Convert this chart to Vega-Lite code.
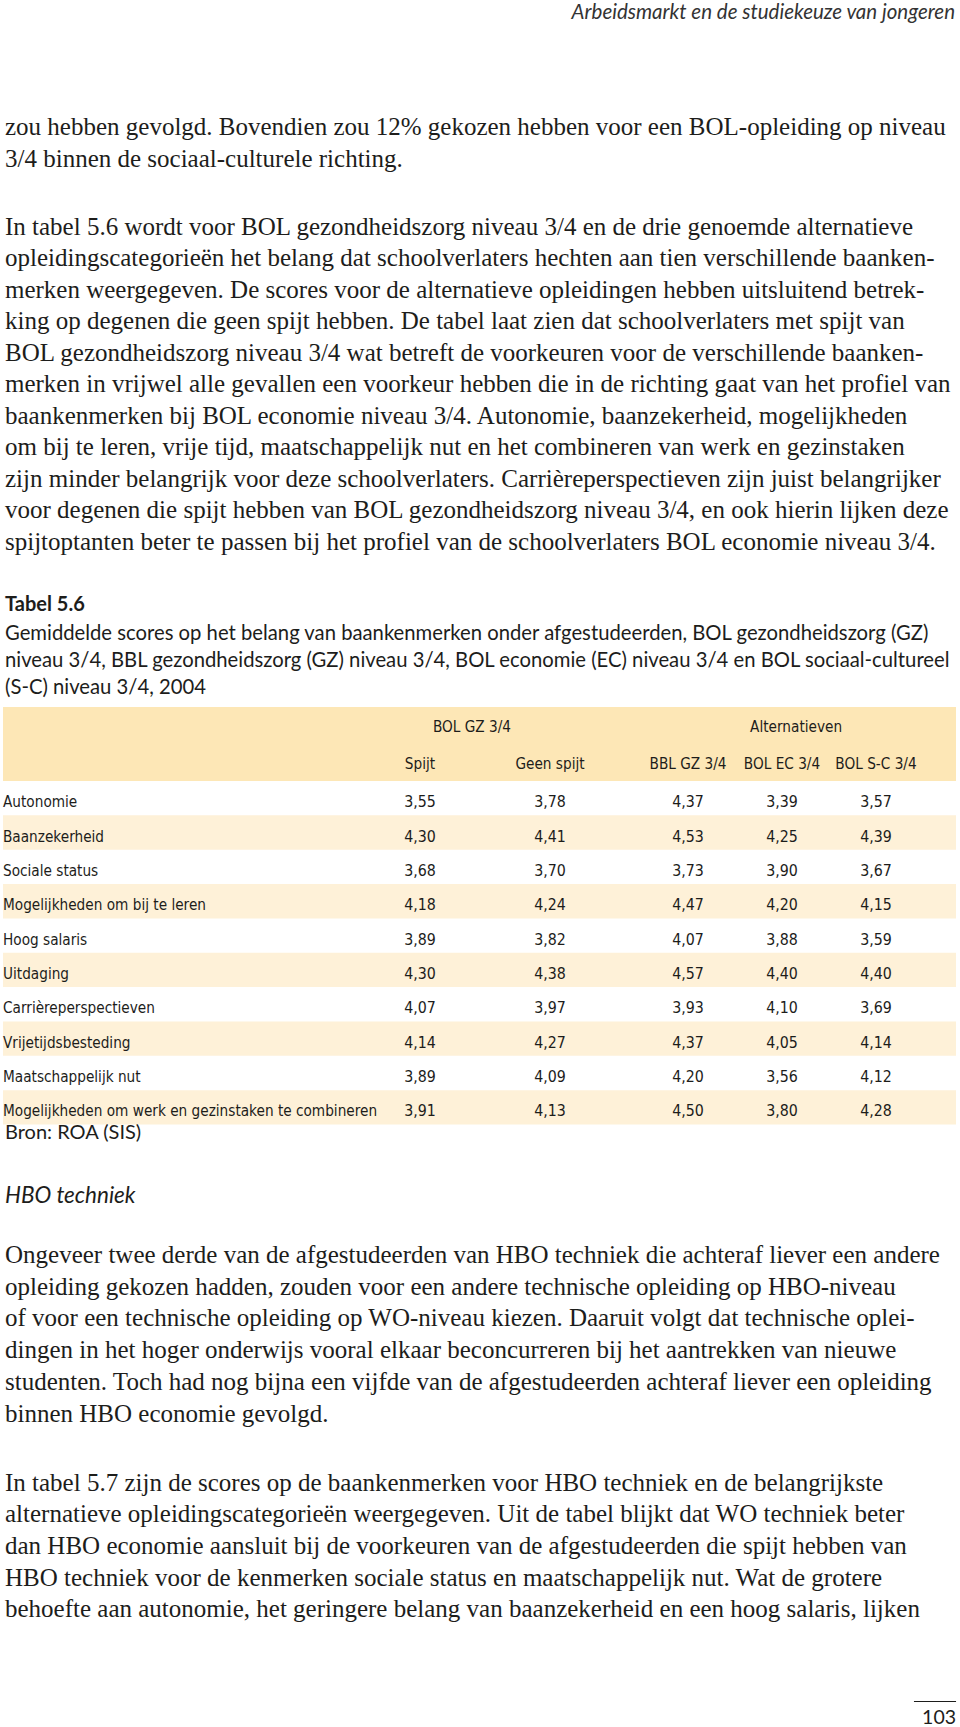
{
  "$schema": "https://vega.github.io/schema/vega-lite/v6.json",
  "width": 960,
  "height": 1727,
  "autosize": {"type": "none"},
  "padding": 0,
  "background": "white",
  "config": {
    "view": {"stroke": null},
    "axis": {"disable": true},
    "legend": {"disable": true},
    "locale": {"number": {"decimal": ",", "thousands": ".", "grouping": [3], "currency": ["€", ""]}},
    "text": {"color": "#1d1d1b"}
  },
  "datasets": {
    "regels": [
      {"blok": "p1", "regel": 0, "tekst": "zou hebben gevolgd. Bovendien zou 12% gekozen hebben voor een BOL-opleiding op niveau"},
      {"blok": "p1", "regel": 1, "tekst": "3/4 binnen de sociaal-culturele richting."},
      {"blok": "p2", "regel": 0, "tekst": "In tabel 5.6 wordt voor BOL gezondheidszorg niveau 3/4 en de drie genoemde alternatieve"},
      {"blok": "p2", "regel": 1, "tekst": "opleidingscategorieën het belang dat schoolverlaters hechten aan tien verschillende baanken-"},
      {"blok": "p2", "regel": 2, "tekst": "merken weergegeven. De scores voor de alternatieve opleidingen hebben uitsluitend betrek-"},
      {"blok": "p2", "regel": 3, "tekst": "king op degenen die geen spijt hebben. De tabel laat zien dat schoolverlaters met spijt van"},
      {"blok": "p2", "regel": 4, "tekst": "BOL gezondheidszorg niveau 3/4 wat betreft de voorkeuren voor de verschillende baanken-"},
      {"blok": "p2", "regel": 5, "tekst": "merken in vrijwel alle gevallen een voorkeur hebben die in de richting gaat van het profiel van"},
      {"blok": "p2", "regel": 6, "tekst": "baankenmerken bij BOL economie niveau 3/4. Autonomie, baanzekerheid, mogelijkheden"},
      {"blok": "p2", "regel": 7, "tekst": "om bij te leren, vrije tijd, maatschappelijk nut en het combineren van werk en gezinstaken"},
      {"blok": "p2", "regel": 8, "tekst": "zijn minder belangrijk voor deze schoolverlaters. Carrièreperspectieven zijn juist belangrijker"},
      {"blok": "p2", "regel": 9, "tekst": "voor degenen die spijt hebben van BOL gezondheidszorg niveau 3/4, en ook hierin lijken deze"},
      {"blok": "p2", "regel": 10, "tekst": "spijtoptanten beter te passen bij het profiel van de schoolverlaters BOL economie niveau 3/4."},
      {"blok": "p3", "regel": 0, "tekst": "Ongeveer twee derde van de afgestudeerden van HBO techniek die achteraf liever een andere"},
      {"blok": "p3", "regel": 1, "tekst": "opleiding gekozen hadden, zouden voor een andere technische  opleiding op HBO-niveau"},
      {"blok": "p3", "regel": 2, "tekst": "of voor een technische opleiding op WO-niveau kiezen. Daaruit volgt dat technische oplei-"},
      {"blok": "p3", "regel": 3, "tekst": "dingen in het hoger onderwijs vooral elkaar beconcurreren bij het aantrekken van nieuwe"},
      {"blok": "p3", "regel": 4, "tekst": "studenten. Toch had nog bijna een vijfde van de afgestudeerden achteraf liever een opleiding"},
      {"blok": "p3", "regel": 5, "tekst": "binnen HBO economie gevolgd."},
      {"blok": "p4", "regel": 0, "tekst": "In tabel 5.7 zijn de scores op de baankenmerken voor HBO techniek en de belangrijkste"},
      {"blok": "p4", "regel": 1, "tekst": "alternatieve opleidingscategorieën weergegeven. Uit de tabel blijkt dat WO techniek beter"},
      {"blok": "p4", "regel": 2, "tekst": "dan HBO economie aansluit bij de voorkeuren van de afgestudeerden die spijt hebben van"},
      {"blok": "p4", "regel": 3, "tekst": "HBO techniek voor de kenmerken sociale status en maatschappelijk nut. Wat de grotere"},
      {"blok": "p4", "regel": 4, "tekst": "behoefte aan autonomie, het geringere belang van baanzekerheid en een hoog salaris, lijken"},
      {"blok": "kop", "regel": 0, "tekst": "Arbeidsmarkt en de studiekeuze van jongeren"},
      {"blok": "tabeltitel", "regel": 0, "tekst": "Tabel 5.6"},
      {"blok": "bijschrift", "regel": 0, "tekst": "Gemiddelde scores op het belang van baankenmerken onder afgestudeerden, BOL gezondheidszorg (GZ)"},
      {"blok": "bijschrift", "regel": 1, "tekst": "niveau 3/4, BBL gezondheidszorg (GZ) niveau 3/4, BOL economie (EC) niveau 3/4 en BOL sociaal-cultureel"},
      {"blok": "bijschrift", "regel": 2, "tekst": "(S-C) niveau 3/4, 2004"},
      {"blok": "bron", "regel": 0, "tekst": "Bron: ROA (SIS)"},
      {"blok": "sectie", "regel": 0, "tekst": "HBO techniek"},
      {"blok": "pagina", "regel": 0, "tekst": "103"}
    ],
    "kolomkoppen": [
      {"kop": "BOL GZ 3/4", "kopregel": 0, "kolom": 0.4},
      {"kop": "Alternatieven", "kopregel": 0, "kolom": 3.15},
      {"kop": "Spijt", "kopregel": 1, "kolom": 0},
      {"kop": "Geen spijt", "kopregel": 1, "kolom": 1},
      {"kop": "BBL GZ 3/4", "kopregel": 1, "kolom": 2},
      {"kop": "BOL EC 3/4", "kopregel": 1, "kolom": 3},
      {"kop": "BOL S-C 3/4", "kopregel": 1, "kolom": 4}
    ],
    "cijfers": [
      {"kenmerk": "Autonomie", "rij": 0, "kolom": 0, "opleiding": "Spijt", "score": 3.55},
      {"kenmerk": "Autonomie", "rij": 0, "kolom": 1, "opleiding": "Geen spijt", "score": 3.78},
      {"kenmerk": "Autonomie", "rij": 0, "kolom": 2, "opleiding": "BBL GZ 3/4", "score": 4.37},
      {"kenmerk": "Autonomie", "rij": 0, "kolom": 3, "opleiding": "BOL EC 3/4", "score": 3.39},
      {"kenmerk": "Autonomie", "rij": 0, "kolom": 4, "opleiding": "BOL S-C 3/4", "score": 3.57},
      {"kenmerk": "Baanzekerheid", "rij": 1, "kolom": 0, "opleiding": "Spijt", "score": 4.30},
      {"kenmerk": "Baanzekerheid", "rij": 1, "kolom": 1, "opleiding": "Geen spijt", "score": 4.41},
      {"kenmerk": "Baanzekerheid", "rij": 1, "kolom": 2, "opleiding": "BBL GZ 3/4", "score": 4.53},
      {"kenmerk": "Baanzekerheid", "rij": 1, "kolom": 3, "opleiding": "BOL EC 3/4", "score": 4.25},
      {"kenmerk": "Baanzekerheid", "rij": 1, "kolom": 4, "opleiding": "BOL S-C 3/4", "score": 4.39},
      {"kenmerk": "Sociale status", "rij": 2, "kolom": 0, "opleiding": "Spijt", "score": 3.68},
      {"kenmerk": "Sociale status", "rij": 2, "kolom": 1, "opleiding": "Geen spijt", "score": 3.70},
      {"kenmerk": "Sociale status", "rij": 2, "kolom": 2, "opleiding": "BBL GZ 3/4", "score": 3.73},
      {"kenmerk": "Sociale status", "rij": 2, "kolom": 3, "opleiding": "BOL EC 3/4", "score": 3.90},
      {"kenmerk": "Sociale status", "rij": 2, "kolom": 4, "opleiding": "BOL S-C 3/4", "score": 3.67},
      {"kenmerk": "Mogelijkheden om bij te leren", "rij": 3, "kolom": 0, "opleiding": "Spijt", "score": 4.18},
      {"kenmerk": "Mogelijkheden om bij te leren", "rij": 3, "kolom": 1, "opleiding": "Geen spijt", "score": 4.24},
      {"kenmerk": "Mogelijkheden om bij te leren", "rij": 3, "kolom": 2, "opleiding": "BBL GZ 3/4", "score": 4.47},
      {"kenmerk": "Mogelijkheden om bij te leren", "rij": 3, "kolom": 3, "opleiding": "BOL EC 3/4", "score": 4.20},
      {"kenmerk": "Mogelijkheden om bij te leren", "rij": 3, "kolom": 4, "opleiding": "BOL S-C 3/4", "score": 4.15},
      {"kenmerk": "Hoog salaris", "rij": 4, "kolom": 0, "opleiding": "Spijt", "score": 3.89},
      {"kenmerk": "Hoog salaris", "rij": 4, "kolom": 1, "opleiding": "Geen spijt", "score": 3.82},
      {"kenmerk": "Hoog salaris", "rij": 4, "kolom": 2, "opleiding": "BBL GZ 3/4", "score": 4.07},
      {"kenmerk": "Hoog salaris", "rij": 4, "kolom": 3, "opleiding": "BOL EC 3/4", "score": 3.88},
      {"kenmerk": "Hoog salaris", "rij": 4, "kolom": 4, "opleiding": "BOL S-C 3/4", "score": 3.59},
      {"kenmerk": "Uitdaging", "rij": 5, "kolom": 0, "opleiding": "Spijt", "score": 4.30},
      {"kenmerk": "Uitdaging", "rij": 5, "kolom": 1, "opleiding": "Geen spijt", "score": 4.38},
      {"kenmerk": "Uitdaging", "rij": 5, "kolom": 2, "opleiding": "BBL GZ 3/4", "score": 4.57},
      {"kenmerk": "Uitdaging", "rij": 5, "kolom": 3, "opleiding": "BOL EC 3/4", "score": 4.40},
      {"kenmerk": "Uitdaging", "rij": 5, "kolom": 4, "opleiding": "BOL S-C 3/4", "score": 4.40},
      {"kenmerk": "Carrièreperspectieven", "rij": 6, "kolom": 0, "opleiding": "Spijt", "score": 4.07},
      {"kenmerk": "Carrièreperspectieven", "rij": 6, "kolom": 1, "opleiding": "Geen spijt", "score": 3.97},
      {"kenmerk": "Carrièreperspectieven", "rij": 6, "kolom": 2, "opleiding": "BBL GZ 3/4", "score": 3.93},
      {"kenmerk": "Carrièreperspectieven", "rij": 6, "kolom": 3, "opleiding": "BOL EC 3/4", "score": 4.10},
      {"kenmerk": "Carrièreperspectieven", "rij": 6, "kolom": 4, "opleiding": "BOL S-C 3/4", "score": 3.69},
      {"kenmerk": "Vrijetijdsbesteding", "rij": 7, "kolom": 0, "opleiding": "Spijt", "score": 4.14},
      {"kenmerk": "Vrijetijdsbesteding", "rij": 7, "kolom": 1, "opleiding": "Geen spijt", "score": 4.27},
      {"kenmerk": "Vrijetijdsbesteding", "rij": 7, "kolom": 2, "opleiding": "BBL GZ 3/4", "score": 4.37},
      {"kenmerk": "Vrijetijdsbesteding", "rij": 7, "kolom": 3, "opleiding": "BOL EC 3/4", "score": 4.05},
      {"kenmerk": "Vrijetijdsbesteding", "rij": 7, "kolom": 4, "opleiding": "BOL S-C 3/4", "score": 4.14},
      {"kenmerk": "Maatschappelijk nut", "rij": 8, "kolom": 0, "opleiding": "Spijt", "score": 3.89},
      {"kenmerk": "Maatschappelijk nut", "rij": 8, "kolom": 1, "opleiding": "Geen spijt", "score": 4.09},
      {"kenmerk": "Maatschappelijk nut", "rij": 8, "kolom": 2, "opleiding": "BBL GZ 3/4", "score": 4.20},
      {"kenmerk": "Maatschappelijk nut", "rij": 8, "kolom": 3, "opleiding": "BOL EC 3/4", "score": 3.56},
      {"kenmerk": "Maatschappelijk nut", "rij": 8, "kolom": 4, "opleiding": "BOL S-C 3/4", "score": 4.12},
      {"kenmerk": "Mogelijkheden om werk en gezinstaken te combineren", "rij": 9, "kolom": 0, "opleiding": "Spijt", "score": 3.91},
      {"kenmerk": "Mogelijkheden om werk en gezinstaken te combineren", "rij": 9, "kolom": 1, "opleiding": "Geen spijt", "score": 4.13},
      {"kenmerk": "Mogelijkheden om werk en gezinstaken te combineren", "rij": 9, "kolom": 2, "opleiding": "BBL GZ 3/4", "score": 4.50},
      {"kenmerk": "Mogelijkheden om werk en gezinstaken te combineren", "rij": 9, "kolom": 3, "opleiding": "BOL EC 3/4", "score": 3.80},
      {"kenmerk": "Mogelijkheden om werk en gezinstaken te combineren", "rij": 9, "kolom": 4, "opleiding": "BOL S-C 3/4", "score": 4.28}
    ]
  },
  "resolve": {"scale": {"x": "independent", "y": "independent"}},
  "layer": [
    {
      "data": {"name": "kolomkoppen"},
      "layer": [
        {
          "mark": {"type": "rect", "color": "#fde7b6"},
          "encoding": {
            "x": {"datum": -1, "type": "quantitative", "scale": {"domain": [-1, 0, 1, 2, 3, 4, 5], "range": [3, 420, 550, 688, 782, 876, 956], "nice": false, "zero": false}},
            "x2": {"datum": 5},
            "y": {"field": "kopregel", "type": "ordinal", "scale": {"type": "band", "domain": [0, 1], "range": [707, 781], "paddingInner": 0, "paddingOuter": 0}}
          }
        },
        {
          "mark": {"type": "text", "font": "DejaVu Sans Condensed, Roboto, sans-serif", "fontSize": 15.2, "align": "center", "baseline": "middle", "dy": 1.5},
          "encoding": {
            "x": {"field": "kolom", "type": "quantitative", "scale": {"domain": [-1, 0, 1, 2, 3, 4, 5], "range": [3, 420, 550, 688, 782, 876, 956], "nice": false, "zero": false}},
            "y": {"field": "kopregel", "type": "ordinal", "scale": {"type": "band", "domain": [0, 1], "range": [707, 781], "paddingInner": 0, "paddingOuter": 0}},
            "text": {"field": "kop"}
          }
        }
      ]
    },
    {
      "data": {"name": "cijfers"},
      "layer": [
        {
          "transform": [{"filter": "datum.kolom == 0 && datum.rij % 2 == 1"}],
          "mark": {"type": "rect", "color": "#fef1d8"},
          "encoding": {
            "x": {"datum": -1, "type": "quantitative", "scale": {"domain": [-1, 0, 1, 2, 3, 4, 5], "range": [3, 420, 550, 688, 782, 876, 956], "nice": false, "zero": false}},
            "x2": {"datum": 5},
            "y": {"field": "rij", "type": "ordinal", "scale": {"type": "band", "domain": [0, 1, 2, 3, 4, 5, 6, 7, 8, 9], "range": [781, 1124.5], "paddingInner": 0, "paddingOuter": 0}}
          }
        },
        {
          "transform": [{"filter": "datum.kolom == 0"}],
          "mark": {"type": "text", "font": "DejaVu Sans Condensed, Roboto, sans-serif", "fontSize": 15.2, "align": "left", "baseline": "middle", "dy": 4},
          "encoding": {
            "x": {"datum": -1, "type": "quantitative", "scale": {"domain": [-1, 0, 1, 2, 3, 4, 5], "range": [3, 420, 550, 688, 782, 876, 956], "nice": false, "zero": false}},
            "y": {"field": "rij", "type": "ordinal", "scale": {"type": "band", "domain": [0, 1, 2, 3, 4, 5, 6, 7, 8, 9], "range": [781, 1124.5], "paddingInner": 0, "paddingOuter": 0}},
            "text": {"field": "kenmerk"}
          }
        },
        {
          "mark": {"type": "text", "font": "DejaVu Sans Condensed, Roboto, sans-serif", "fontSize": 15.8, "align": "center", "baseline": "middle", "dy": 4},
          "encoding": {
            "x": {"field": "kolom", "type": "quantitative", "scale": {"domain": [-1, 0, 1, 2, 3, 4, 5], "range": [3, 420, 550, 688, 782, 876, 956], "nice": false, "zero": false}},
            "y": {"field": "rij", "type": "ordinal", "scale": {"type": "band", "domain": [0, 1, 2, 3, 4, 5, 6, 7, 8, 9], "range": [781, 1124.5], "paddingInner": 0, "paddingOuter": 0}},
            "text": {"field": "score", "type": "quantitative", "format": ".2f"}
          }
        }
      ]
    },
    {
      "data": {"name": "regels"},
      "transform": [{"filter": "datum.blok == 'p1'"}],
      "mark": {"type": "text", "font": "Liberation Serif", "fontSize": 25, "align": "left", "baseline": "middle"},
      "encoding": {
        "x": {"datum": 0, "type": "quantitative", "scale": {"domain": [0, 1], "range": [5, 955], "nice": false, "zero": false}},
        "y": {"field": "regel", "type": "quantitative", "scale": {"domain": [0, 1], "range": [127, 158.5], "nice": false, "zero": false}},
        "text": {"field": "tekst"}
      }
    },
    {
      "data": {"name": "regels"},
      "transform": [{"filter": "datum.blok == 'p2'"}],
      "mark": {"type": "text", "font": "Liberation Serif", "fontSize": 25, "align": "left", "baseline": "middle"},
      "encoding": {
        "x": {"datum": 0, "type": "quantitative", "scale": {"domain": [0, 1], "range": [5, 955], "nice": false, "zero": false}},
        "y": {"field": "regel", "type": "quantitative", "scale": {"domain": [0, 1], "range": [226.5, 258], "nice": false, "zero": false}},
        "text": {"field": "tekst"}
      }
    },
    {
      "data": {"name": "regels"},
      "transform": [{"filter": "datum.blok == 'p3'"}],
      "mark": {"type": "text", "font": "Liberation Serif", "fontSize": 25, "align": "left", "baseline": "middle"},
      "encoding": {
        "x": {"datum": 0, "type": "quantitative", "scale": {"domain": [0, 1], "range": [5, 955], "nice": false, "zero": false}},
        "y": {"field": "regel", "type": "quantitative", "scale": {"domain": [0, 1], "range": [1255, 1286.7], "nice": false, "zero": false}},
        "text": {"field": "tekst"}
      }
    },
    {
      "data": {"name": "regels"},
      "transform": [{"filter": "datum.blok == 'p4'"}],
      "mark": {"type": "text", "font": "Liberation Serif", "fontSize": 25, "align": "left", "baseline": "middle"},
      "encoding": {
        "x": {"datum": 0, "type": "quantitative", "scale": {"domain": [0, 1], "range": [5, 955], "nice": false, "zero": false}},
        "y": {"field": "regel", "type": "quantitative", "scale": {"domain": [0, 1], "range": [1482.8, 1514.45], "nice": false, "zero": false}},
        "text": {"field": "tekst"}
      }
    },
    {
      "data": {"name": "regels"},
      "transform": [{"filter": "datum.blok == 'kop'"}],
      "mark": {"type": "text", "font": "Lato", "fontStyle": "italic", "fontSize": 20.5, "align": "right", "baseline": "middle", "color": "#333333"},
      "encoding": {
        "x": {"datum": 1, "type": "quantitative", "scale": {"domain": [0, 1], "range": [5, 955], "nice": false, "zero": false}},
        "y": {"field": "regel", "type": "quantitative", "scale": {"domain": [0, 1], "range": [12.5, 13.5], "nice": false, "zero": false}},
        "text": {"field": "tekst"}
      }
    },
    {
      "data": {"name": "regels"},
      "transform": [{"filter": "datum.blok == 'tabeltitel'"}],
      "mark": {"type": "text", "font": "Lato", "fontWeight": "bold", "fontSize": 20, "align": "left", "baseline": "middle"},
      "encoding": {
        "x": {"datum": 0, "type": "quantitative", "scale": {"domain": [0, 1], "range": [5, 955], "nice": false, "zero": false}},
        "y": {"field": "regel", "type": "quantitative", "scale": {"domain": [0, 1], "range": [604.5, 605.5], "nice": false, "zero": false}},
        "text": {"field": "tekst"}
      }
    },
    {
      "data": {"name": "regels"},
      "transform": [{"filter": "datum.blok == 'bijschrift'"}],
      "mark": {"type": "text", "font": "Lato", "fontSize": 20.25, "align": "left", "baseline": "middle"},
      "encoding": {
        "x": {"datum": 0, "type": "quantitative", "scale": {"domain": [0, 1], "range": [5, 955], "nice": false, "zero": false}},
        "y": {"field": "regel", "type": "quantitative", "scale": {"domain": [0, 1], "range": [634, 661], "nice": false, "zero": false}},
        "text": {"field": "tekst"}
      }
    },
    {
      "data": {"name": "regels"},
      "transform": [{"filter": "datum.blok == 'bron'"}],
      "mark": {"type": "text", "font": "Lato", "fontSize": 20, "align": "left", "baseline": "middle"},
      "encoding": {
        "x": {"datum": 0, "type": "quantitative", "scale": {"domain": [0, 1], "range": [5, 955], "nice": false, "zero": false}},
        "y": {"field": "regel", "type": "quantitative", "scale": {"domain": [0, 1], "range": [1133, 1134], "nice": false, "zero": false}},
        "text": {"field": "tekst"}
      }
    },
    {
      "data": {"name": "regels"},
      "transform": [{"filter": "datum.blok == 'sectie'"}],
      "mark": {"type": "text", "font": "Lato", "fontStyle": "italic", "fontSize": 22.5, "align": "left", "baseline": "middle"},
      "encoding": {
        "x": {"datum": 0, "type": "quantitative", "scale": {"domain": [0, 1], "range": [5, 955], "nice": false, "zero": false}},
        "y": {"field": "regel", "type": "quantitative", "scale": {"domain": [0, 1], "range": [1196, 1197], "nice": false, "zero": false}},
        "text": {"field": "tekst"}
      }
    },
    {
      "data": {"name": "regels"},
      "transform": [{"filter": "datum.blok == 'pagina'"}],
      "resolve": {"scale": {"x": "independent", "y": "independent"}},
      "layer": [
        {
          "mark": {"type": "rule", "color": "#1d1d1b", "strokeWidth": 1.2},
          "encoding": {
            "x": {"datum": 0.9568, "type": "quantitative", "scale": {"domain": [0, 1], "range": [5, 955], "nice": false, "zero": false}},
            "x2": {"datum": 1.0011},
            "y": {"field": "regel", "type": "quantitative", "scale": {"domain": [0, 1], "range": [1701.5, 1702.5], "nice": false, "zero": false}}
          }
        },
        {
          "mark": {"type": "text", "font": "Lato", "fontSize": 19.5, "align": "right", "baseline": "middle"},
          "encoding": {
            "x": {"datum": 1.0011, "type": "quantitative", "scale": {"domain": [0, 1], "range": [5, 955], "nice": false, "zero": false}},
            "y": {"field": "regel", "type": "quantitative", "scale": {"domain": [0, 1], "range": [1717.5, 1718.5], "nice": false, "zero": false}},
            "text": {"field": "tekst"}
          }
        }
      ]
    }
  ]
}
